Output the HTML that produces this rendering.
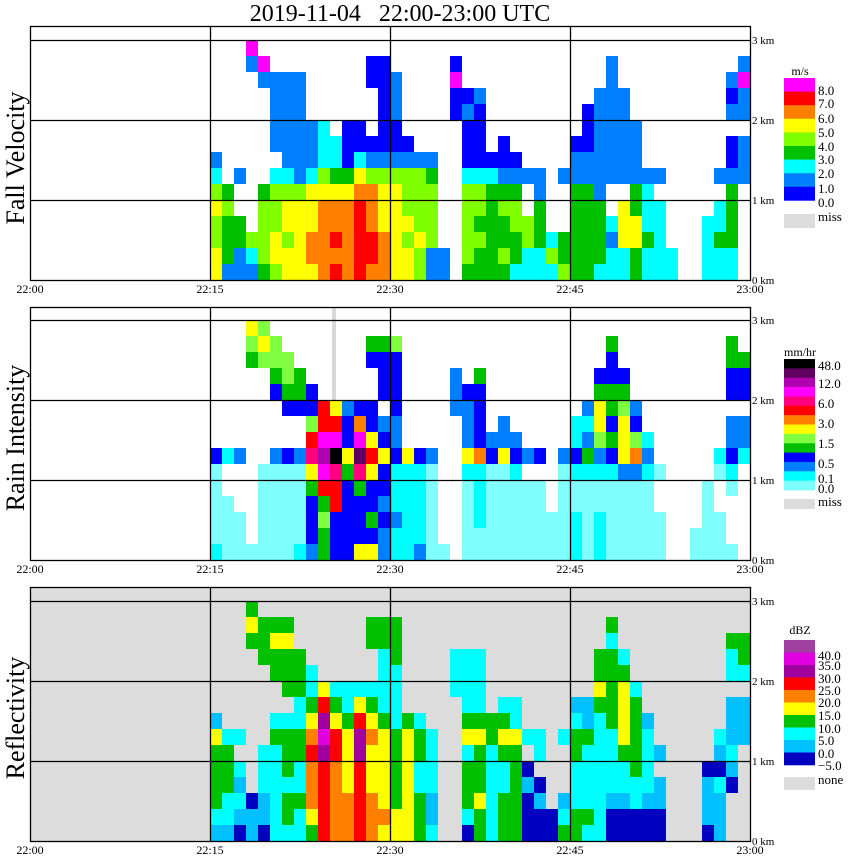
<!DOCTYPE html>
<html>
<head>
<meta charset="utf-8">
<style>
  html,body{margin:0;padding:0;background:#fff;}
  svg{display:block;}
  text{font-family:"Liberation Serif",serif;fill:#000;}
</style>
</head>
<body>
<svg id="chart" width="850" height="868" viewBox="0 0 850 868" xmlns="http://www.w3.org/2000/svg">
  <text x="400" y="21" font-size="24" text-anchor="middle" xml:space="preserve">2019-11-04   22:00-23:00 UTC</text>
  <text transform="translate(24,158) rotate(-90)" font-size="26" text-anchor="middle">Fall Velocity</text>
  <text transform="translate(24,438) rotate(-90)" font-size="26" text-anchor="middle">Rain Intensity</text>
  <text transform="translate(24,718) rotate(-90)" font-size="26" text-anchor="middle">Reflectivity</text>
  <g id="panels"></g>
</svg>
<script>
// ---- data ----
const timeTicks = ['22:00','22:15','22:30','22:45','23:00'];
const tickMinutes = [0,15,30,45,60];
const kmTicks = [0,1,2,3];
const startMinute = 15;
const rowKm = 0.2;

// Fall velocity class per column (bottom->top, 0.2 km rows), '.' = no echo
const velCols = [
"55445421........","133343..........","1133..1.........","124..........18.","344443......18..",
"4554442.11111...","5545542111111...","5555541111111...","5665552111......","6666654222......",
"767665322.......","6666653000......","7777765200......","677666410...00..","66655541000000..",
"5555554100111...","554544410.......","44544441........","11444431........","11..............",
"..........0080..","344444200010....","334344200001....","33333320........","343343100.......",
"23344310........","2244..1.........","2233311.........","242.............","433...1.........",
"333333110.......","33333311000.....","233331111111....","2212..11111111..","22555.111111....",
"3355331111......","2232221.........","22222.1.........","22..............","................",
"................","2222............","22322.1.........","223333100.101...","......111.1181.."
];
// Rain intensity class per column
const rainCols = [
"1000003.........","0000..1.........","000...2.........","0...........456.","000000......565.",
"0000002...3455..","0000003..3455...","1000002..344....","23334698533.....","44548aba88......",
"333889da86......","3333346332......","633349ca73......","6343368633..34..","223233632.3334..",
"11211132233335..","1111116.........","2111113.........","0000002.........","0...............",
".........222....","00000162223.....","001111733334....","00000032........","000000622.......",
"00000132........","00000.2.........","00000.3.........","000.............","0000002.........",
"111001311.......","0000014212......","111001256643....","00000134344334..","000002666543....",
"0000027532......","00000121........","000..0..........","................","................",
"00..............","00000...........","000..01.........","0...01322.3344..","......122.334..."
];
// Reflectivity class per column
const dbzCols = [
"12333341........","1223332.........","01212.2.........","110.........343.","011222.....333..",
"22222232..3343..","23323332.33343..","223223322333....","34555654322.....","6666678764......",
"5555566432......","5554444322......","6666677642......","5554445432..33..","45444443222233..",
"44333332222333..","44444443........","33322332........","2112222.........","................",
".........222....","023332432222....","334333432222....","22222233........","333223432.......",
"333333422.......","00010.2.........","0010.22.........","00..............","321...2.........",
"332223321.......","232222311.......","222222223433....","00122223333323..","001223444432....",
"0022333332......","00122221........","0011.1..........","................","................",
"................","01110...........","1112012.........","...012111.223...","......111.233..."
];

const velColors = {'0':'#0000ff','1':'#0080ff','2':'#00ffff','3':'#00c000','4':'#80ff00','5':'#ffff00','6':'#ff8000','7':'#ff0000','8':'#ff00ff'};
const rainColors = {'0':'#80ffff','1':'#00ffff','2':'#0080ff','3':'#0000ff','4':'#00c000','5':'#80ff40','6':'#ffff00','7':'#ff8000','8':'#ff0000','9':'#ff0080','a':'#ff00ff','b':'#b000b0','c':'#600060','d':'#000000'};
const dbzColors = {'0':'#0000c0','1':'#00c0ff','2':'#00ffff','3':'#00c000','4':'#ffff00','5':'#ff8000','6':'#ff0000','7':'#a000a0','8':'#e000e0','9':'#a040a0'};

const velLegendColors = ['#ff00ff','#ff0000','#ff8000','#ffff00','#80ff00','#00c000','#00ffff','#0080ff','#0000ff'];
const velLegendLabels = ['8.0','7.0','6.0','5.0','4.0','3.0','2.0','1.0','0.0'];
const rainLegendColors = ['#000000','#600060','#b000b0','#ff00ff','#ff0080','#ff0000','#ff8000','#ffff00','#80ff40','#00c000','#0000ff','#0080ff','#00ffff','#80ffff'];
const rainLegendLabels = ['48.0','12.0','6.0','3.0','1.5','0.5','0.1','0.0'];
const dbzLegendColors = ['#a040a0','#e000e0','#a000a0','#ff0000','#ff8000','#ffff00','#00c000','#00ffff','#00c0ff','#0000c0'];
const dbzLegendLabels = ['40.0','35.0','30.0','25.0','20.0','15.0','10.0','5.0','0.0','\u22125.0'];

// ---- layout ----
const NS = 'http://www.w3.org/2000/svg';
const root = document.getElementById('panels');
function xs(min){ return 30 + min*12; }
function mk(tag, attrs, parent){
  const e = document.createElementNS(NS, tag);
  for (const k in attrs) e.setAttribute(k, attrs[k]);
  (parent||root).appendChild(e);
  return e;
}

const panels = [
  {name:'fall-velocity', top:26, base:280, cols:velCols, colors:velColors, bg:'#ffffff'},
  {name:'rain-intensity', top:307, base:560, cols:rainCols, colors:rainColors, bg:'#ffffff'},
  {name:'reflectivity', top:587, base:841, cols:dbzCols, colors:dbzColors, bg:'#dcdcdc'}
];

panels.forEach((p, pi) => {
  const ys = km => p.base - km*80;
  const g = mk('g', {});
  
  
  const clipId = 'clip' + pi;
  const cp = mk('clipPath', {id: clipId}, g);
  mk('rect', {x:30, y:p.top, width:720, height:p.base-p.top}, cp);
  const bg = mk('rect', {x:30, y:p.top, width:720, height:p.base-p.top, fill:p.bg}, g);
  
  
  const cells = mk('g', {'clip-path':'url(#'+clipId+')'}, g);
  
  
  p.cols.forEach((col, i) => {
    for (let k = 0; k < col.length; k++) {
      const c = col[k];
      if (c === '.' || !p.colors[c]) continue;
      const r = mk('rect', {x: xs(startMinute+i), y: ys((k+1)*rowKm), width: xs(startMinute+i+1)-xs(startMinute+i), height: ys(k*rowKm)-ys((k+1)*rowKm), fill: p.colors[c]}, cells);
      
      
    }
  });
  if (pi === 1) {
    const mb = mk('rect', {x:332, y:p.top, width:4, height:ys(2.0)-p.top, fill:'#d8d8d8'}, g);
    
    
  }
  // gridlines
  tickMinutes.slice(1,4).forEach(m => {
    const l = mk('line', {x1:xs(m)+0.5, x2:xs(m)+0.5, y1:p.top, y2:p.base, stroke:'#000', 'stroke-width':1.3}, g);
    
    
  });
  kmTicks.slice(1).forEach(km => {
    const l = mk('line', {x1:30, x2:750, y1:ys(km)+0.5, y2:ys(km)+0.5, stroke:'#000', 'stroke-width':1.3}, g);
    
    
  });
  const fr = mk('rect', {x:30.5, y:p.top+0.5, width:720, height:p.base-p.top, fill:'none', stroke:'#000', 'stroke-width':1.3}, g);
  
  
  // km labels
  kmTicks.forEach(km => {
    const t = mk('text', {x:752, y:ys(km)+4, 'font-size':11}, g);
    t.textContent = km + ' km';
    
    
  });
  // time labels
  tickMinutes.forEach((m, j) => {
    const t = mk('text', {x:xs(m), y:p.base+13, 'font-size':12, 'text-anchor':'middle', 'font-family':'Liberation Sans, sans-serif'}, g);
    t.textContent = timeTicks[j];
    
    
  });
});

// ---- legends ----
function legend(name, unit, unitY, top, bandH, colors, labels, labelYs, missLabel, missTop, missH) {
  const g = mk('g', {});
  
  
  const u = mk('text', {x:800, y:unitY, 'font-size':12, 'text-anchor':'middle'}, g);
  u.textContent = unit;
  
  
  colors.forEach((c, i) => {
    const r = mk('rect', {x:784, y:top + i*bandH, width:31, height:bandH+0.3, fill:c}, g);
    
    
  });
  labels.forEach((l, i) => {
    const t = mk('text', {x:818, y:labelYs[i]+5, 'font-size':13}, g);
    t.textContent = l;
    
    
  });
  const m = mk('rect', {x:784, y:missTop, width:31, height:missH, fill:'#dcdcdc'}, g);
  
  
  const mt = mk('text', {x:818, y:missTop+7, 'font-size':13}, g);
  mt.textContent = missLabel;
  
  
}
legend('fall-velocity-legend', 'm/s', 75, 78, 13.6, velLegendColors, velLegendLabels,
  [90,103,118,132,146,159,173,188,202], 'miss', 214, 14);
legend('rain-intensity-legend', 'mm/hr', 356, 359, 9.36, rainLegendColors, rainLegendLabels,
  [365,383,403,423,443,463,478,488], 'miss', 499, 10);
legend('reflectivity-legend', 'dBZ', 634, 640, 12.5, dbzLegendColors, dbzLegendLabels,
  [655,665,678,690,702,715,728,740,753,765], 'none', 777, 13);
</script>
</body>
</html>
